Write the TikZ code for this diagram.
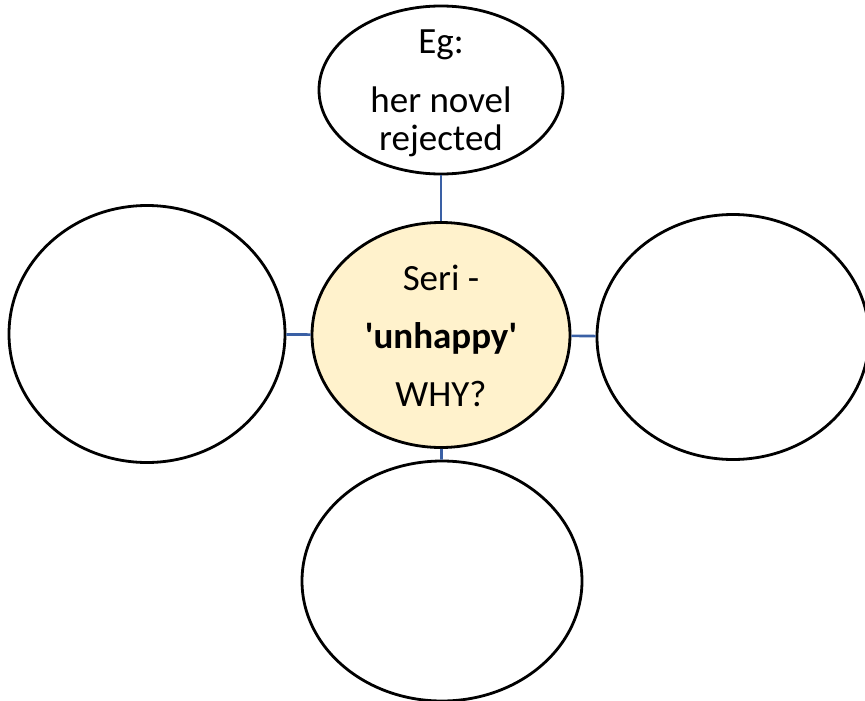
\documentclass[tikz,border=0pt]{standalone}
\usepackage{fontspec}
\setmainfont{Carlito}
\usetikzlibrary{shapes.geometric}
\definecolor{linkblue}{RGB}{58,96,165}
\definecolor{hubfill}{RGB}{255,242,204}
\tikzset{
  bubble/.style={ellipse, draw=black, line width=2.8pt, inner sep=0pt},
  link/.style={draw=linkblue, line width=2.6pt},
  words/.style={align=center, font=\fontsize{37}{38}\selectfont, inner sep=0pt}
}
\begin{document}
\begin{tikzpicture}[x=1pt,y=-1pt]
  \useasboundingbox (0,0) rectangle (865,701);
  \clip (0,0) rectangle (865,701);

  % hub
  \node[bubble, fill=hubfill, minimum width=258pt, minimum height=225pt] (hub) at (441,335) {};
  \node[words] (hubtext) at (441,336) {Seri -\\[20pt]\textbf{\textquotesingle unhappy\textquotesingle}\\[20pt]WHY?};

  % surrounding bubbles
  \node[bubble, minimum width=244pt, minimum height=168pt] (top) at (441,90) {};
  \node[words] (toptext) at (441,93) {Eg:\\[21pt]her novel\\rejected};
  \node[bubble, minimum width=276pt, minimum height=257pt] (left) at (147,334) {};
  \node[bubble, minimum width=272pt, minimum height=245pt] (right) at (733,337) {};
  \node[bubble, minimum width=280pt, minimum height=240pt] (bottom) at (442,581) {};

  % connectors
  \draw[link] (top) -- (hub);
  \draw[link] (left) -- (hub);
  \draw[link] (hub) -- (right);
  \draw[link] (hub) -- (bottom);
\end{tikzpicture}
\end{document}
